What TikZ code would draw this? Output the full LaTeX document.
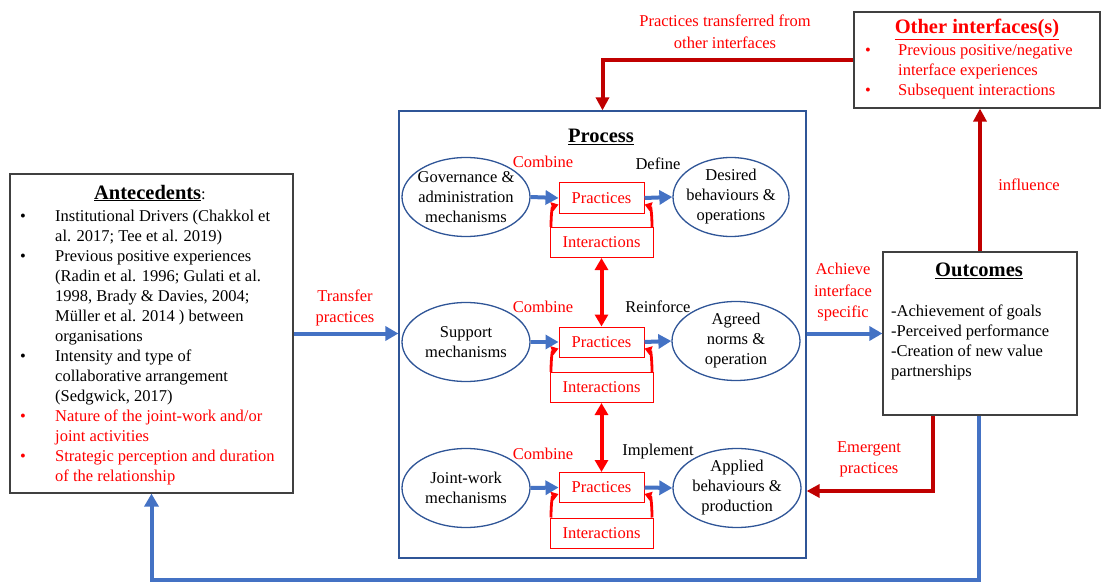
\documentclass[tikz,border=0pt]{standalone}
\usepackage{fontspec}
\setmainfont{Liberation Serif}
\usetikzlibrary{shapes.geometric,arrows.meta,calc}
\definecolor{ablue}{HTML}{4472C4}
\definecolor{dblue}{HTML}{2F5597}
\definecolor{dred}{HTML}{C00000}
\definecolor{bred}{HTML}{FF0000}
\definecolor{bgray}{HTML}{404040}
\begin{document}
\begin{tikzpicture}[x=1pt,y=-1pt,
  body/.style={font=\fontsize{16.5}{20}\selectfont},
  lab/.style={font=\fontsize{16.5}{21.5}\selectfont, align=center, inner sep=0pt},
  ttl/.style={font=\fontsize{20.5}{24}\selectfont\bfseries, inner sep=0pt},
  ell/.style={ellipse, draw=dblue, line width=1.3pt, align=center, body,
    inner xsep=-5pt, inner ysep=-3pt, minimum width=128pt, minimum height=79pt},
  prac/.style={draw=bred, line width=1pt, text=bred, body, minimum width=85pt, minimum height=30pt, inner sep=0pt},
  inter/.style={draw=bred, line width=1pt, text=bred, body, minimum width=103pt, minimum height=30pt, inner sep=0pt},
  bigbox/.style={draw=bgray, line width=1.2pt, inner sep=0pt},
  bluearr/.style={draw=ablue, line width=4pt, -{Triangle[length=13pt,width=14pt]}},
  dredarr/.style={draw=dred, line width=4pt, -{Triangle[length=13pt,width=13pt]}},
  redvert/.style={draw=bred, line width=4pt, {Triangle[length=12pt,width=13pt]}-{Triangle[length=12pt,width=13pt]}},
  redcurve/.style={draw=bred, line width=2.8pt, -{Triangle[length=7pt,width=9pt]}},
]
\useasboundingbox (0,0) rectangle (1101,583);

% big boxes
\node[bigbox, minimum width=283pt, minimum height=319pt] (ante) at (151.5,333.5) {};
\node[draw=dblue, line width=1.2pt, inner sep=0pt, minimum width=407pt, minimum height=447pt] (proc) at (602.5,334.5) {};
\node[bigbox, minimum width=194pt, minimum height=163pt] (outc) at (980,333.5) {};
\node[bigbox, minimum width=246pt, minimum height=96pt] (oth) at (977,60) {};

% Antecedents content
\node[inner sep=0pt] (antt) at (150,193) {\underline{\textbf{\fontsize{20.5}{24}\selectfont Antecedents}}{\fontsize{16.5}{20}\selectfont:}};
\node[anchor=north west, inner sep=0pt, body] (antl) at (20,207) {%
\begin{tabular}{@{}p{35pt}@{}l@{}}
\textbullet & Institutional Drivers (Chakkol et\\
 & al. 2017; Tee et al. 2019)\\
\textbullet & Previous positive experiences\\
 & (Radin et al. 1996; Gulati et al.\\
 & 1998, Brady \& Davies, 2004;\\
 & Müller et al. 2014 ) between\\
 & organisations\\
\textbullet & Intensity and type of\\
 & collaborative arrangement\\
 & (Sedgwick, 2017)\\
\textcolor{bred}{\textbullet} & \textcolor{bred}{Nature of the joint-work and/or}\\
 & \textcolor{bred}{joint activities}\\
\textcolor{bred}{\textbullet} & \textcolor{bred}{Strategic perception and duration}\\
 & \textcolor{bred}{of the relationship}
\end{tabular}};

% Other interfaces content
\node[ttl, text=bred] (otht) at (977,29) {\underline{Other interfaces(s)}};
\node[anchor=north west, inner sep=0pt, body, text=bred] (othl) at (865,41) {%
\begin{tabular}{@{}p{33pt}@{}l@{}}
\textbullet & Previous positive/negative\\
 & interface experiences\\
\textbullet & Subsequent interactions
\end{tabular}};

% Outcomes content
\node[ttl] (outt) at (979,271) {\underline{Outcomes}};
\node[anchor=north west, inner sep=0pt, body] (outl) at (891,302) {%
\begin{tabular}{@{}l@{}}
-Achievement of goals\\
-Perceived performance\\
-Creation of new value\\
partnerships
\end{tabular}};

% Process content
\node[ttl] (proct) at (601,137) {\underline{Process}};

% Row 1
\node[ell] (e1l) at (466,197) {Governance \&\\administration\\mechanisms};
\node[prac] (p1) at (601.5,198) {Practices};
\node[inter] (i1) at (601.5,242.5) {Interactions};
\node[ell, minimum width=116pt] (e1r) at (731,197) {Desired\\behaviours \&\\operations};
\node[lab, text=bred] (c1) at (543,162) {Combine};
\node[lab] (d1) at (658,164) {Define};

% Row 2
\node[ell] (e2l) at (466,342) {Support\\mechanisms};
\node[prac] (p2) at (601.5,342) {Practices};
\node[inter] (i2) at (601.5,387.5) {Interactions};
\node[ell] (e2r) at (736,341) {Agreed\\norms \&\\operation};
\node[lab, text=bred] (c2) at (543,307) {Combine};
\node[lab] (d2) at (658,307) {Reinforce};

% Row 3
\node[ell] (e3l) at (466,488) {Joint-work\\mechanisms};
\node[prac] (p3) at (601.5,487.5) {Practices};
\node[inter] (i3) at (601.5,533) {Interactions};
\node[ell] (e3r) at (737,488) {Applied\\behaviours \&\\production};
\node[lab, text=bred] (c3) at (543,454) {Combine};
\node[lab] (d3) at (658,452) {Implement};

% row arrows
\foreach \r in {1,2,3}{
  \draw[bluearr] (e\r l.east) -- (p\r.west);
  \draw[bluearr] (p\r.east) -- (e\r r.west);
  \draw[redcurve] ($(i\r.north west)+(1.5,0)$) .. controls +(0,-14) and +(-6,2) .. ($(p\r.south west)+(0,-9)$);
  \draw[redcurve] ($(i\r.north east)+(-1.5,0)$) .. controls +(0,-14) and +(6,2) .. ($(p\r.south east)+(0,-9)$);
}
\draw[redvert] (i1.south) -- (p2.north);
\draw[redvert] (i2.south) -- (p3.north);

% outer connectors
\draw[bluearr] (ante.east) -- (ante.east -| proc.west);
\node[lab, text=bred] (ltr) at (345,308) {Transfer\\practices};

\draw[bluearr] (proc.east |- outc.west) -- (outc.west);
\node[lab, text=bred] (lach) at (843,292.5) {Achieve\\interface\\specific};

\draw[dredarr] (oth.west) -| (proc.north);
\node[lab, text=bred] (lpt) at (725,32) {Practices transferred from\\other interfaces};

\draw[dredarr] (outc.north) -- (outc.north |- oth.south);
\node[lab, text=bred] (linf) at (1029,185) {influence};

\coordinate (em) at (933,491);
\draw[dredarr] (outc.south -| em) |- (proc.east |- em);
\node[lab, text=bred] (lem) at (869,459.5) {Emergent\\practices};

\coordinate (bot) at (979,580);
\draw[bluearr] (outc.south -| bot) -- (bot) -| (ante.south);
\end{tikzpicture}
\end{document}
